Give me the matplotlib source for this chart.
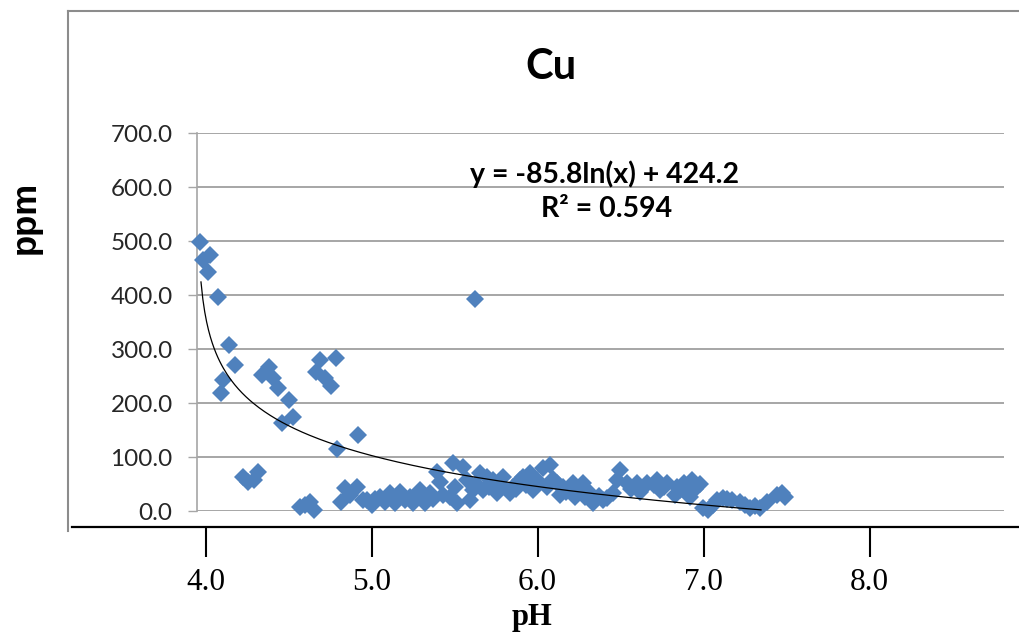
import numpy as np
import matplotlib
matplotlib.use("Agg")
import matplotlib.pyplot as plt
from matplotlib.lines import Line2D

# ---------------- data ----------------
ph = [3.966, 4.027, 3.985, 4.015, 4.076, 4.141, 4.177, 4.105, 4.093,
      4.340, 4.382, 4.407, 4.437, 4.503, 4.527, 4.461,
      4.223, 4.290, 4.316, 4.256,
      4.689, 4.786, 4.665, 4.720, 4.756,
      4.569, 4.600, 4.629, 4.653,
      4.792, 4.918,
      4.840, 4.816, 4.912, 4.948, 4.870,
      4.973, 5.003, 5.051, 5.111, 5.141, 5.171, 5.231, 5.250, 5.292, 5.322,
      5.352, 5.394, 5.412, 5.490, 5.551, 5.472, 5.514, 5.575, 5.593, 5.611,
      5.623, 5.653, 5.671, 5.695, 5.731, 5.755, 5.792, 5.834, 5.852, 5.894,
      5.912, 5.954, 5.972, 5.996, 6.033, 6.075, 6.057, 6.117, 6.135, 6.153,
      6.213, 6.226, 6.274, 6.286, 6.316, 6.334, 6.394, 6.419, 6.455, 6.479,
      6.497, 6.539, 6.599, 6.617, 6.660, 6.720, 6.737, 6.780, 6.828, 6.840,
      6.882, 6.918, 6.930, 6.978, 6.997, 7.027, 7.057, 7.117, 7.171, 7.219,
      7.250, 7.280, 7.340, 7.382, 7.443, 7.491,
      5.020, 5.080, 5.200, 5.270, 5.370, 5.430, 5.500, 5.630, 5.710, 5.780,
      5.870, 5.930, 6.090, 6.170, 6.250, 6.370, 6.560, 6.640, 6.700, 6.760,
      6.860, 6.950, 7.080, 7.140, 7.310, 7.470]
cu = [498, 474, 465, 443, 396, 307, 270, 243, 218,
      252, 267, 246, 228, 206, 174, 163,
      63, 57, 73, 54,
      280, 283, 257, 246, 231,
      7, 11, 17, 2,
      115, 141,
      43, 17, 44, 20, 30,
      20, 11, 26, 33, 15, 35, 26, 15, 39, 15,
      33, 72, 54, 89, 81, 26, 15, 57, 20, 39,
      393, 70, 39, 63, 57, 33, 63, 33, 44, 57,
      63, 70, 39, 57, 80, 85, 44, 52, 30, 44,
      52, 26, 52, 26, 33, 15, 20, 24, 33, 57,
      76, 52, 52, 35, 52, 57, 39, 52, 30, 44,
      52, 26, 57, 50, 6, 2, 11, 24, 20, 17,
      11, 6, 6, 17, 30, 26,
      22, 17, 20, 30, 22, 30, 45, 50, 45, 48,
      40, 48, 60, 35, 40, 28, 40, 45, 48, 45,
      38, 40, 20, 22, 10, 34]

# logarithmic trendline reported on the chart (fitted on sample order 1..N)
trend_a = -85.8
trend_b = 424.2
trend_n = 137
trend_ph_start = 3.972
trend_ph_end = 7.346

y_ticks = [0, 100, 200, 300, 400, 500, 600, 700]
x_ticks = [4.0, 5.0, 6.0, 7.0, 8.0]

title = "Cu"
eq_text = "y = -85.8ln(x) + 424.2"
r2_text = "R\u00b2 = 0.594"
ylabel = "ppm"
xlabel = "pH"

# ---------------- figure ----------------
W, H = 1020, 634
fig = plt.figure(figsize=(W / 100, H / 100), dpi=100)

def fx(px):
    return px / W

def fy(py):
    return 1 - py / H

left, right, top, bottom = 197, 1004, 133, 511
ax = fig.add_axes([fx(left), fy(bottom), fx(right) - fx(left), fy(top) - fy(bottom)])

ax.set_xlim(3.948, 8.810)
ax.set_ylim(0, 700)

blue = "#4F81BD"
grid_c = "#a6a6a6"

ax.plot(ph, cu, linestyle="none", marker="D", ms=9.0, mfc=blue, mec=blue,
        mew=0, zorder=3, clip_on=False)

tx = np.linspace(trend_ph_start, trend_ph_end, 300)
t = 1 + (tx - trend_ph_start) * (trend_n - 1) / (trend_ph_end - trend_ph_start)
ax.plot(tx, trend_a * np.log(t) + trend_b, color="black", lw=0.9, zorder=4)

# y axis styling
ax.set_yticks(y_ticks)
ax.set_yticklabels([f"{v:.1f}" for v in y_ticks], family="Lato", fontsize=17.5,
                   color="#262626")
ax.yaxis.grid(True, color=grid_c, lw=1.4)
ax.set_axisbelow(True)
ax.tick_params(axis="y", direction="out", length=6.5, width=1.0, color=grid_c,
               pad=11)
for s in ["top", "right"]:
    ax.spines[s].set_visible(False)
ax.spines["left"].set_color(grid_c)
ax.spines["left"].set_linewidth(1.2)

# x axis (overlay style)
ax.spines["bottom"].set_position(("outward", 11.5))
ax.spines["bottom"].set_visible(False)
ax.set_xticks(x_ticks)
ax.set_xticklabels([f"{v:.1f}" for v in x_ticks], family="Liberation Serif",
                   fontsize=22.5, color="black")
ax.tick_params(axis="x", direction="out", length=21.5, width=1.5, color="black",
               pad=8)

fig.add_artist(Line2D([fx(72), 1.0], [fy(527), fy(527)], color="black", lw=1.6))

# outer frame (left and top)
fig.add_artist(Line2D([fx(68), fx(68)], [fy(11), fy(531)], color="#8c8c8c", lw=1.5))
fig.add_artist(Line2D([fx(68), 1.0], [fy(11), fy(11)], color="#8c8c8c", lw=1.5))

# texts
fig.text(fx(551), fy(67), title, family="Lato", fontweight="bold", fontsize=30,
         ha="center", va="center")
fig.text(fx(605), fy(174), eq_text, family="Lato", fontweight="bold",
         fontsize=20.5, ha="center", va="center")
fig.text(fx(607), fy(209), r2_text, family="Lato", fontweight="bold",
         fontsize=20.5, ha="center", va="center")
fig.text(fx(25), fy(217), ylabel, family="Liberation Sans", fontweight="bold",
         fontsize=25, rotation=90, ha="center", va="center")
fig.text(fx(532), fy(603), xlabel, family="Liberation Serif", fontweight="bold",
         fontsize=22, ha="center", va="top")

fig.savefig("out.png", dpi=100)
